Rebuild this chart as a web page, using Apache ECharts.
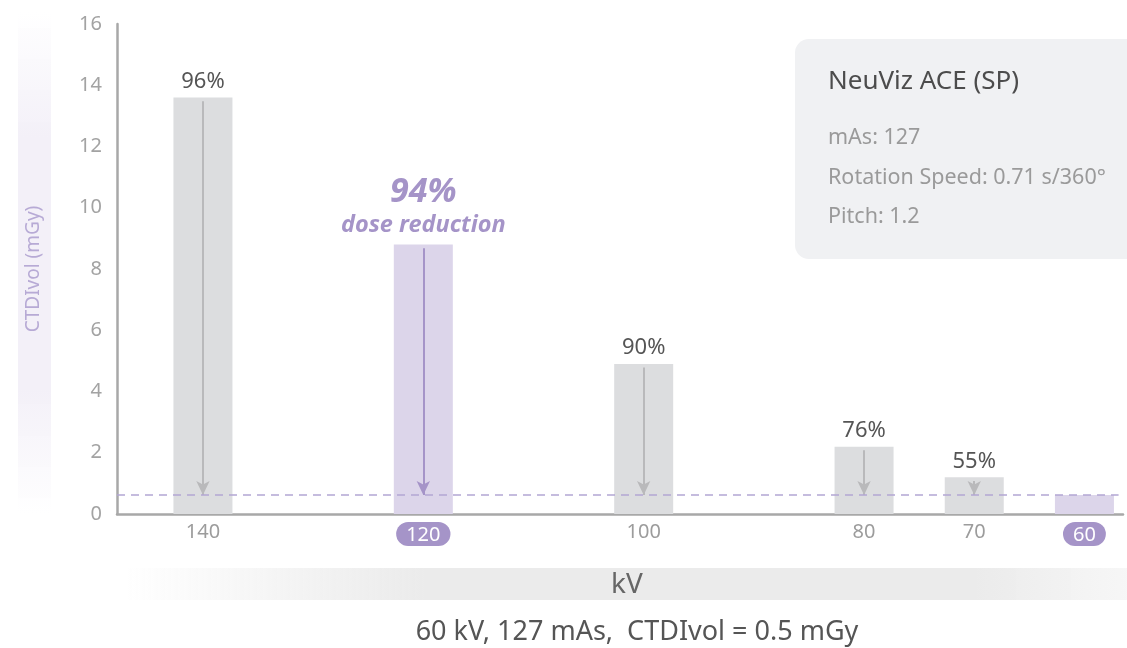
<!DOCTYPE html>
<html>
<head>
<meta charset="utf-8">
<title>CTDIvol by kV</title>
<script src="https://cdn.jsdelivr.net/npm/echarts@6/dist/echarts.min.js"></script>
<style>
  html, body { margin: 0; padding: 0; background: #fff; }
  #chart { width: 1127px; height: 648px; }
</style>
</head>
<body>
<div id="chart"></div>
<script>
// tube voltage (kV) and measured CTDIvol (mGy)
const kvValues = [140, 120, 100, 80, 70, 60];
const ctdiValues = [13.6, 8.8, 4.9, 2.2, 1.2, 0.62];
const reductionLabels = ['96%', '94%', '90%', '76%', '55%', ''];
const highlightKv = [120, 60];
const baselineDose = 0.62;
const yTicks = [0, 2, 4, 6, 8, 10, 12, 14, 16];

const FONT = '"Noto Sans", sans-serif';
const PURPLE = '#a594c8';
const PURPLE_LIGHT = '#dcd5ea';
const GREY_BAR = '#dcdddf';
const GREY_ARROW = '#b9b9bb';
const X_MIN = 56.5;
const X_MAX = 147.8;

function isHighlight(kv) {
  return highlightKv.includes(kv);
}

const barData = kvValues.map((kv, i) => ({
  value: [kv, ctdiValues[i]],
  itemStyle: { color: isHighlight(kv) ? PURPLE_LIGHT : GREY_BAR },
}));

// arrows from each bar top down to the 60 kV dose level
const arrowLines = kvValues
  .map((kv, i) => ({ kv, top: ctdiValues[i] }))
  .filter((d) => d.top > baselineDose + 0.1)
  .map((d) => [
    { coord: [d.kv, d.top - 0.12], lineStyle: { color: isHighlight(d.kv) ? PURPLE : GREY_ARROW, width: 2, type: 'solid' } },
    { coord: [d.kv, baselineDose] },
  ]);

const baselineLine = [
  { coord: [X_MAX, baselineDose], symbol: 'none', lineStyle: { color: '#b3a7d3', width: 1.5, type: [8, 6] } },
  { coord: [X_MIN + 0.4, baselineDose], symbol: 'none' },
];

const chart = echarts.init(document.getElementById('chart'), null, { renderer: 'canvas' });

chart.setOption({
  animation: false,
  textStyle: { fontFamily: FONT },
  grid: { left: 117, right: 4, top: 24, bottom: 134, containLabel: false },
  xAxis: {
    type: 'value',
    inverse: true,
    min: X_MIN,
    max: X_MAX,
    splitLine: { show: false },
    axisLine: { show: true, lineStyle: { color: '#a8a8a8', width: 2.5 } },
    axisTick: { show: false },
    axisLabel: {
      customValues: kvValues,
      margin: 8,
      fontSize: 20,
      color: '#9c9c9c',
      formatter: (v) => (isHighlight(v) ? `{hl|${v}}` : `${v}`),
      rich: {
        hl: {
          color: '#fff',
          fontSize: 20,
          backgroundColor: PURPLE,
          borderRadius: 13,
          padding: [3, 10, 1, 10],
        },
      },
    },
  },
  yAxis: {
    type: 'value',
    min: 0,
    max: 16,
    interval: 2,
    name: 'CTDIvol (mGy)',
    nameLocation: 'middle',
    nameRotate: 90,
    nameGap: 74,
    nameTextStyle: { color: '#b7aad5', fontSize: 19, fontFamily: FONT },
    splitLine: { show: false },
    axisLine: { show: true, lineStyle: { color: '#a8a8a8', width: 2.5 } },
    axisTick: { show: false },
    axisLabel: {
      customValues: yTicks,
      margin: 15,
      fontSize: 20,
      color: '#a3a3a3',
    },
  },
  graphic: [
    {
      type: 'rect',
      z: -1,
      shape: { x: 18, y: 12, width: 33, height: 502 },
      style: {
        fill: new echarts.graphic.LinearGradient(0, 0, 0, 1, [
          { offset: 0, color: 'rgba(243,240,248,0)' },
          { offset: 0.25, color: 'rgba(243,240,248,1)' },
          { offset: 0.75, color: 'rgba(243,240,248,1)' },
          { offset: 1, color: 'rgba(243,240,248,0)' },
        ]),
      },
    },
    {
      type: 'rect',
      z: -1,
      shape: { x: 125, y: 568, width: 1002, height: 32 },
      style: {
        fill: new echarts.graphic.LinearGradient(0, 0, 1, 0, [
          { offset: 0, color: 'rgba(235,235,235,0)' },
          { offset: 0.3, color: 'rgba(235,235,235,1)' },
          { offset: 0.85, color: 'rgba(235,235,235,1)' },
          { offset: 1, color: 'rgba(235,235,235,0.4)' },
        ]),
      },
    },
    {
      type: 'text',
      x: 627,
      y: 585,
      style: { text: 'kV', fontSize: 28, fill: '#666', fontFamily: FONT, align: 'center', verticalAlign: 'middle' },
    },
    {
      type: 'text',
      x: 637,
      y: 632,
      style: {
        text: '60 kV, 127 mAs,  CTDIvol = 0.5 mGy',
        fontSize: 27,
        fill: '#555',
        fontFamily: FONT,
        align: 'center',
        verticalAlign: 'middle',
      },
    },
    {
      type: 'group',
      left: 795,
      top: 39,
      children: [
        {
          type: 'rect',
          shape: { x: 0, y: 0, width: 360, height: 220, r: 14 },
          style: { fill: '#f0f1f3' },
        },
        {
          type: 'text',
          x: 33,
          y: 43,
          style: { text: 'NeuViz ACE (SP)', fontSize: 26, fill: '#4c4c4c', fontFamily: FONT, verticalAlign: 'middle' },
        },
        {
          type: 'text',
          x: 33,
          y: 99,
          style: { text: 'mAs: 127', fontSize: 21.5, fill: '#9a9a9a', fontFamily: FONT, verticalAlign: 'middle' },
        },
        {
          type: 'text',
          x: 33,
          y: 139,
          style: { text: 'Rotation Speed: 0.71 s/360°', fontSize: 21.5, fill: '#9a9a9a', fontFamily: FONT, verticalAlign: 'middle' },
        },
        {
          type: 'text',
          x: 33,
          y: 178,
          style: { text: 'Pitch: 1.2', fontSize: 21.5, fill: '#9a9a9a', fontFamily: FONT, verticalAlign: 'middle' },
        },
      ],
    },
  ],
  series: [
    {
      type: 'bar',
      barWidth: 59,
      data: barData,
      label: {
        show: true,
        position: 'top',
        distance: 5,
        fontFamily: FONT,
        formatter: (p) => {
          const i = p.dataIndex;
          const text = reductionLabels[i];
          if (!text) return '';
          if (isHighlight(kvValues[i])) return `{big|${text}}\n{sub|dose reduction}`;
          return `{pct|${text}}`;
        },
        rich: {
          pct: { fontSize: 22, color: '#555', fontFamily: FONT },
          big: { fontSize: 34, color: PURPLE, fontWeight: 'bold', fontStyle: 'italic', fontFamily: FONT, lineHeight: 38 },
          sub: { fontSize: 23.5, color: PURPLE, fontWeight: 'bold', fontStyle: 'italic', fontFamily: FONT, lineHeight: 28 },
        },
      },
      markLine: {
        silent: true,
        symbol: ['none', 'arrow'],
        symbolSize: [10, 14],
        label: { show: false },
        data: arrowLines.concat([baselineLine]),
      },
    },
  ],
});
</script>
</body>
</html>
